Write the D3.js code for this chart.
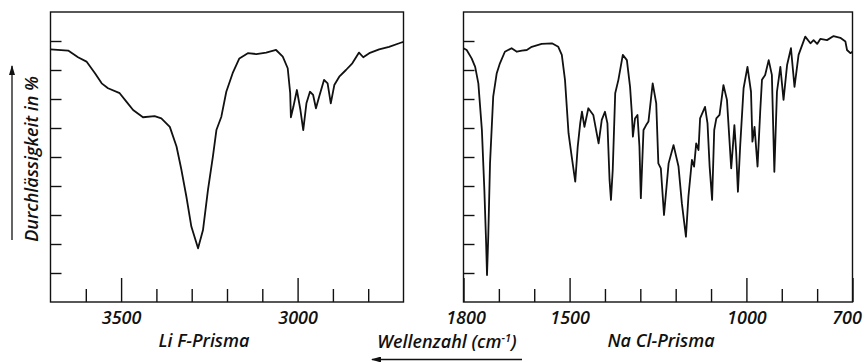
<!DOCTYPE html>
<html>
<head>
<meta charset="utf-8">
<script src="https://cdn.jsdelivr.net/npm/d3@7"></script>
<style>
  body { margin: 0; background: #fff; }
  svg { display: block; }
  text { font-family: "Open Sans", "Noto Sans", sans-serif; font-style: italic; font-weight: 600; fill: #111; }
</style>
</head>
<body>
<div id="container"></div>
<script>
// LiF prism region (cm-1) and transmission (%)
const lifWavenumber = [3700, 3650, 3622, 3598, 3574, 3555, 3537, 3504, 3485, 3466, 3438, 3405, 3386, 3362, 3343, 3329, 3315, 3301, 3282, 3268, 3254, 3240, 3230, 3216, 3202, 3184, 3165, 3141, 3117, 3089, 3061, 3042, 3028, 3021, 3019, 3012, 3002, 2992, 2984, 2975, 2965, 2956, 2948, 2939, 2925, 2915, 2906, 2896, 2882, 2863, 2845, 2826, 2814, 2797, 2769, 2741, 2708, 2700];
const lifTransmission = [87.1, 86.7, 84.4, 82.9, 78.9, 75.4, 73.7, 72.0, 69.1, 66.2, 63.7, 64.1, 63.3, 60.4, 53.6, 45.5, 36.3, 26.0, 18.5, 24.8, 38.6, 50.1, 59.3, 63.9, 72.5, 78.9, 84.0, 85.8, 85.5, 86.0, 86.9, 84.6, 80.6, 72.0, 63.7, 67.3, 73.1, 66.2, 59.3, 68.5, 72.5, 71.4, 66.8, 70.8, 76.6, 75.4, 68.5, 74.8, 77.7, 80.0, 82.3, 86.0, 84.4, 85.8, 87.1, 88.0, 89.4, 89.7];

// NaCl prism region
const naclWavenumber = [1800, 1791, 1777, 1767, 1758, 1748, 1741, 1736, 1733.5, 1730, 1725, 1716, 1706, 1697, 1683, 1664, 1649, 1635, 1621, 1607, 1579, 1550, 1532, 1522, 1513, 1503, 1494, 1484, 1477, 1470, 1465, 1458, 1447, 1433, 1418, 1409, 1400, 1393, 1387, 1383, 1378, 1371, 1362, 1349.5, 1338, 1329, 1324, 1321, 1315, 1308, 1302.5, 1298.5, 1291, 1283.5, 1277, 1265, 1255, 1249, 1242, 1233, 1220, 1206, 1192, 1182.5, 1171, 1164, 1154, 1148, 1142, 1135.5, 1131, 1117, 1110, 1104, 1097, 1091, 1085, 1076, 1065, 1055, 1043, 1038, 1034, 1029, 1024, 1017.5, 1008, 997, 987, 983, 977, 968.5, 961, 956, 947, 937, 928, 921, 913.6, 904, 895, 885, 874, 864, 852.5, 833.6, 819, 810, 800, 791, 772, 753.5, 734.5, 720, 715.5, 706, 700];
const naclTransmission = [87.5, 86.9, 84.0, 81.1, 75.4, 59.3, 38.6, 20.2, 9.3, 22.5, 47.8, 70.8, 78.9, 82.3, 86.3, 87.5, 86.3, 86.7, 86.9, 88.0, 89.0, 89.2, 88.0, 85.2, 76.6, 58.2, 50.1, 41.5, 53.6, 61.6, 65.6, 60.4, 66.8, 64.5, 54.7, 62.8, 65.6, 61.6, 42.1, 35.2, 45.5, 72.0, 76.6, 85.2, 83.4, 74.2, 65.1, 57.0, 63.3, 64.5, 53.6, 35.8, 59.3, 61.0, 62.2, 75.4, 68.5, 47.8, 46.1, 30.0, 47.8, 54.1, 46.7, 34.0, 22.5, 36.3, 49.0, 46.7, 54.7, 52.4, 63.3, 67.3, 61.6, 46.7, 35.2, 59.3, 63.3, 64.5, 74.8, 69.7, 46.1, 54.1, 61.0, 51.8, 38.0, 54.1, 73.7, 81.1, 72.5, 55.3, 60.4, 46.7, 65.6, 76.6, 78.3, 83.4, 78.3, 44.9, 72.5, 81.1, 69.7, 81.7, 87.5, 74.2, 85.2, 91.5, 89.2, 90.3, 89.0, 90.7, 90.3, 91.7, 91.1, 89.8, 86.9, 85.8, 86.3];

const yTicks = [10, 20, 30, 40, 50, 60, 70, 80, 90];
const lifMinorTicks = [3600, 3400, 3300, 3200, 3100, 2900, 2800];
const lifMajorTicks = [3500, 3000];
const naclMinorTicks = [1700, 1600, 1400, 1300, 1200, 1100, 900, 800];
const naclMajorTicks = [1800, 1500, 1000, 700];

const width = 865, height = 362;
const svg = d3.select("#container").append("svg")
  .attr("width", width).attr("height", height);

const y = d3.scaleLinear().domain([0, 100]).range([302, 12]);

function drawPanel(domain, range, wn, tr, minor, major, title, titleX) {
  const x = d3.scaleLinear().domain(domain).range(range);
  const g = svg.append("g");

  g.append("rect")
    .attr("x", range[0]).attr("y", y(100))
    .attr("width", range[1] - range[0]).attr("height", y(0) - y(100))
    .attr("fill", "none").attr("stroke", "#111").attr("stroke-width", 1.4);

  const yAx = g.append("g")
    .attr("transform", "translate(" + range[0] + ",0)")
    .call(d3.axisLeft(y).tickValues(yTicks).tickSize(-11).tickFormat(""));
  yAx.select(".domain").remove();
  yAx.selectAll("line").attr("stroke", "#111").attr("stroke-width", 1.4);

  const minAx = g.append("g")
    .attr("transform", "translate(0," + y(0) + ")")
    .call(d3.axisBottom(x).tickValues(minor).tickSize(-13).tickFormat(""));
  minAx.select(".domain").remove();
  minAx.selectAll("line").attr("stroke", "#111").attr("stroke-width", 1.4);

  const majAx = g.append("g")
    .attr("transform", "translate(0," + y(0) + ")")
    .call(d3.axisBottom(x).tickValues(major).tickSize(-24).tickPadding(9).tickFormat(d3.format("d")));
  majAx.select(".domain").remove();
  majAx.selectAll("line").attr("stroke", "#111").attr("stroke-width", 1.4);
  majAx.selectAll("text")
    .attr("font-size", 18).attr("font-family", null).attr("fill", "#111")
    .attr("dx", d => d === 700 ? -6 : (d === 1800 ? 2 : 0));

  const pts = wn.map((d, i) => [d, tr[i]]);
  g.append("path")
    .datum(pts)
    .attr("fill", "none")
    .attr("stroke", "#111")
    .attr("stroke-width", 1.8)
    .attr("stroke-linejoin", "round")
    .attr("d", d3.line()
      .x(d => x(d[0]))
      .y(d => y(d[1])));

  svg.append("text")
    .attr("x", titleX).attr("y", 347)
    .attr("text-anchor", "middle")
    .attr("font-size", 18)
    .text(title);
}

drawPanel([3700, 2700], [50.5, 403.5], lifWavenumber, lifTransmission,
  lifMinorTicks, lifMajorTicks, "Li F-Prisma", 204);
drawPanel([1800, 700], [463.5, 852.5], naclWavenumber, naclTransmission,
  naclMinorTicks, naclMajorTicks, "Na Cl-Prisma", 661);

// x axis title with arrow
const xt = svg.append("text")
  .attr("x", 447).attr("y", 348)
  .attr("text-anchor", "middle")
  .attr("font-size", 18);
xt.append("tspan").text("Wellenzahl (cm");
xt.append("tspan").attr("dy", -6).attr("font-size", 11).text("-1");
xt.append("tspan").attr("dy", 6).text(")");

svg.append("defs").append("marker")
  .attr("id", "ah").attr("viewBox", "0 0 10 6")
  .attr("refX", 9).attr("refY", 3)
  .attr("markerWidth", 10).attr("markerHeight", 6)
  .attr("markerUnits", "userSpaceOnUse")
  .attr("orient", "auto")
  .append("path").attr("d", "M0,0 L10,3 L0,6 Z").attr("fill", "#111");

svg.append("line")
  .attr("x1", 522).attr("y1", 359.5).attr("x2", 372).attr("y2", 359.5)
  .attr("stroke", "#111").attr("stroke-width", 1.3)
  .attr("marker-end", "url(#ah)");

// y axis title with arrow
svg.append("text")
  .attr("transform", "translate(38,159) rotate(-90)")
  .attr("text-anchor", "middle")
  .attr("font-size", 18)
  .text("Durchlässigkeit  in %");

svg.append("line")
  .attr("x1", 12).attr("y1", 240).attr("x2", 12).attr("y2", 66)
  .attr("stroke", "#111").attr("stroke-width", 1.3)
  .attr("marker-end", "url(#ah)");
</script>
</body>
</html>
